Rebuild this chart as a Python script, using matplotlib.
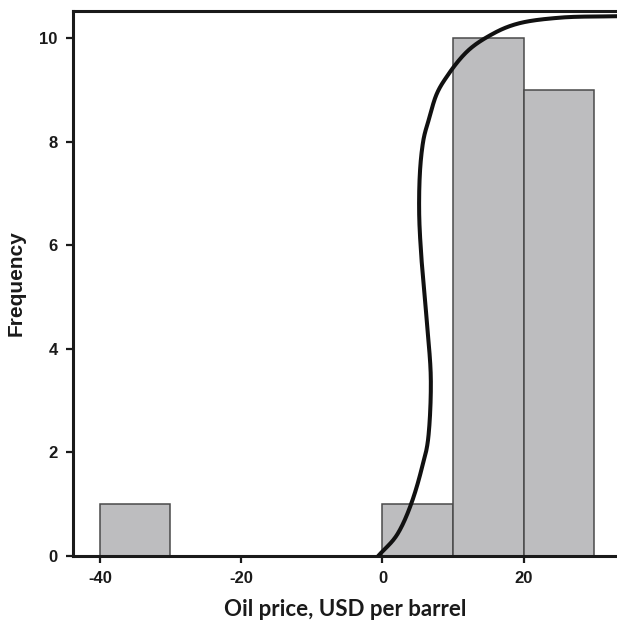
import numpy as np
import matplotlib.pyplot as plt

plt.rcParams['axes.unicode_minus'] = False

# histogram of oil prices, bins of 10 USD
bin_left = [-40, 0, 10, 20]
counts = [1, 1, 10, 9]
bin_width = 10

# fitted curve, traced as (price, frequency) points
curve_x = [-0.6, 2.2, 4.1, 5.5, 6.5, 6.85, 6.3, 5.6, 5.2, 5.3, 5.75, 6.6,
           7.6, 9.3, 12.0, 15.5, 19.0, 25.0, 33.5]
curve_y = [0.0, 0.44, 1.02, 1.66, 2.3, 3.4, 4.5, 5.6, 6.6, 7.4, 8.0, 8.45,
           8.9, 9.3, 9.75, 10.08, 10.28, 10.4, 10.43]

xticks = [-40, -20, 0, 20]
yticks = [0, 2, 4, 6, 8, 10]


def catmull_rom(xs, ys, n=40):
    # centripetal Catmull-Rom through the given points
    p = np.column_stack([xs, ys]).astype(float)
    p = np.vstack([2 * p[0] - p[1], p, 2 * p[-1] - p[-2]])
    out = []
    for i in range(1, len(p) - 2):
        p0, p1, p2, p3 = p[i - 1], p[i], p[i + 1], p[i + 2]
        t0 = 0.0
        t1 = t0 + np.linalg.norm(p1 - p0) ** 0.5
        t2 = t1 + np.linalg.norm(p2 - p1) ** 0.5
        t3 = t2 + np.linalg.norm(p3 - p2) ** 0.5
        t = np.linspace(t1, t2, n)[:, None]
        a1 = (t1 - t) / (t1 - t0) * p0 + (t - t0) / (t1 - t0) * p1
        a2 = (t2 - t) / (t2 - t1) * p1 + (t - t1) / (t2 - t1) * p2
        a3 = (t3 - t) / (t3 - t2) * p2 + (t - t2) / (t3 - t2) * p3
        b1 = (t2 - t) / (t2 - t0) * a1 + (t - t0) / (t2 - t0) * a2
        b2 = (t3 - t) / (t3 - t1) * a2 + (t - t1) / (t3 - t1) * a3
        c = (t2 - t) / (t2 - t1) * b1 + (t - t1) / (t2 - t1) * b2
        out.append(c)
    out = np.vstack(out)
    return out[:, 0], out[:, 1]


dpi = 100
fig = plt.figure(dpi=dpi, figsize=(617 / dpi, 620 / dpi))
ax = fig.add_axes([73 / 617, 64 / 620, 1 - 73 / 617, 545 / 620])

ax.bar(bin_left, counts, width=bin_width, align='edge',
       color='#bdbdbf', edgecolor='#4a4a4a', linewidth=1.1, zorder=2)

cx, cy = catmull_rom(curve_x, curve_y)
ax.plot(cx, cy, color='#111111', linewidth=2.9, zorder=3,
        solid_capstyle='round')

ax.set_xlim(-43.8, 33.2)
ax.set_ylim(0, 10.53)
ax.set_xticks(xticks)
ax.set_yticks(yticks)

for side in ['left', 'bottom', 'top']:
    ax.spines[side].set_linewidth(2.2)
    ax.spines[side].set_color('#1a1a1a')
ax.spines['right'].set_visible(False)

ax.tick_params(direction='out', length=5, width=1.6, color='#1a1a1a',
               labelsize=12, pad=6)
for lab in ax.get_xticklabels() + ax.get_yticklabels():
    lab.set_fontfamily('Liberation Sans')
    lab.set_fontweight('bold')
    lab.set_color('#1a1a1a')

ax.set_xlabel('Oil price, USD per barrel', fontsize=16, fontweight='bold',
              fontfamily='Lato', color='#1a1a1a', labelpad=9)
ax.set_ylabel('Frequency', fontsize=15, fontweight='bold',
              fontfamily='Liberation Sans', color='#1a1a1a', labelpad=10)

fig.savefig('out.png', dpi=dpi)
